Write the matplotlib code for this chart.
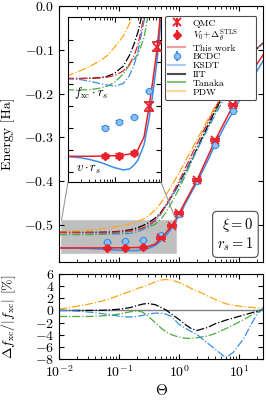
import numpy as np
import matplotlib
matplotlib.use('Agg')
import matplotlib.pyplot as plt
from matplotlib.lines import Line2D
from matplotlib.patches import Rectangle, ConnectionPatch

plt.rcParams['font.family'] = 'serif'
plt.rcParams['font.serif'] = ['cmr10']
plt.rcParams['mathtext.fontset'] = 'cm'
plt.rcParams['axes.formatter.use_mathtext'] = True

# temperature grid for the curves
theta = [0.01, 0.02, 0.03, 0.05, 0.07, 0.1, 0.15, 0.2, 0.25, 0.3, 0.4, 0.5, 0.6,
         0.75, 1.0, 1.3, 1.6, 2.0, 3.0, 4.0, 6.0, 8.0, 12, 16, 20, 25]

# f_xc * r_s  (dash-dot)
fxc_this = [-0.5174, -0.5174, -0.5173, -0.5171, -0.5168, -0.5160, -0.5140, -0.5110, -0.5070,
            -0.5020, -0.4890, -0.4730, -0.4560, -0.4320, -0.4000, -0.3670, -0.3410, -0.3140,
            -0.2660, -0.2330, -0.1900, -0.1630, -0.1300, -0.1100, -0.0960, -0.0840]
fxc_ksdt = [-0.5174, -0.5179, -0.5186, -0.5197, -0.5204, -0.5209, -0.5197, -0.5161, -0.5111,
            -0.5050, -0.4912, -0.4751, -0.4587, -0.4363, -0.4092, -0.3780, -0.3529, -0.3266,
            -0.2804, -0.2479, -0.2048, -0.1742, -0.1360, -0.1124, -0.0966, -0.0837]
fxc_iit = [-0.5174, -0.5174, -0.5173, -0.5170, -0.5164, -0.5150, -0.5117, -0.5069, -0.5017,
           -0.4962, -0.4844, -0.4706, -0.4555, -0.4346, -0.4060, -0.3758, -0.3512, -0.3244,
           -0.2734, -0.2381, -0.1930, -0.1650, -0.1310, -0.1104, -0.0961, -0.0838]
fxc_tanaka = [-0.5226, -0.5226, -0.5225, -0.5218, -0.5209, -0.5191, -0.5153, -0.5113, -0.5085,
              -0.5065, -0.4988, -0.4867, -0.4720, -0.4493, -0.4176, -0.3839, -0.3567, -0.3281,
              -0.2772, -0.2419, -0.1957, -0.1669, -0.1320, -0.1109, -0.0963, -0.0838]
fxc_pdw = [-0.5164, -0.5138, -0.5121, -0.5093, -0.5070, -0.5031, -0.4981, -0.4926, -0.4872,
           -0.4809, -0.4660, -0.4494, -0.4327, -0.4104, -0.3816, -0.3520, -0.3287, -0.3040,
           -0.2596, -0.2288, -0.1879, -0.1616, -0.1292, -0.1095, -0.0956, -0.0837]

# v * r_s  (solid)
v_this = [-0.5528, -0.5528, -0.5528, -0.5527, -0.5526, -0.5525, -0.5522, -0.5518, -0.5511,
          -0.5498, -0.5440, -0.5310, -0.5190, -0.5030, -0.4740, -0.4440, -0.4210, -0.3970,
          -0.3440, -0.3060, -0.2590, -0.2260, -0.1820, -0.1530, -0.1310, -0.1110]
v_ksdt = [-0.5528, -0.5535, -0.5542, -0.5555, -0.5567, -0.5580, -0.5590, -0.5586, -0.5568,
          -0.5545, -0.5475, -0.5365, -0.5250, -0.5080, -0.4790, -0.4490, -0.4260, -0.4020,
          -0.3530, -0.3160, -0.2690, -0.2400, -0.1970, -0.1690, -0.1470, -0.1250]

# relative deviation of f_xc in percent
dev_pdw = [0.2, 0.7, 1.0, 1.5, 1.9, 2.5, 3.1, 3.6, 3.9, 4.2, 4.7, 5.0, 5.1, 5.0, 4.6, 4.1,
           3.6, 3.2, 2.4, 1.8, 1.1, 0.85, 0.6, 0.5, 0.42, 0.38]
dev_iit = [0.0, 0.0, 0.0, 0.02, 0.08, 0.2, 0.45, 0.8, 1.05, 1.15, 0.95, 0.5, 0.1, -0.6, -1.5,
           -2.4, -3.0, -3.3, -2.8, -2.2, -1.6, -1.25, -0.75, -0.4, -0.15, 0.2]
dev_tanaka = [-1.0, -1.0, -1.0, -0.9, -0.8, -0.6, -0.25, -0.05, -0.3, -0.9, -2.0, -2.9, -3.5,
              -4.0, -4.4, -4.6, -4.6, -4.5, -4.2, -3.8, -3.0, -2.4, -1.5, -0.8, -0.3, 0.2]
dev_ksdt = [0.0, -0.1, -0.25, -0.5, -0.7, -0.95, -1.1, -1.0, -0.8, -0.6, -0.45, -0.45, -0.6,
            -1.0, -2.3, -3.0, -3.5, -4.0, -5.4, -6.4, -7.8, -6.9, -4.6, -2.2, -0.6, 0.3]

# data points
theta_qmc = [0.5, 0.75, 1.0, 2.0, 4.0, 8.0]
v_qmc = [-0.5300, -0.5030, -0.4735, -0.3970, -0.3060, -0.2260]
err_qmc = [0.002, 0.002, 0.002, 0.002, 0.002, 0.002]

theta_stls = [0.0625, 0.125, 0.25]
v_stls = [-0.5527, -0.5525, -0.5512]
err_stls = [0.001, 0.001, 0.001]

theta_bcdc = [0.0625, 0.125, 0.25, 0.5, 1.0, 2.0, 4.0, 8.0]
v_bcdc = [-0.5397, -0.5370, -0.5350, -0.5230, -0.4760, -0.3990, -0.3170, -0.2400]
err_bcdc = [0.0005, 0.0005, 0.0005, 0.0005, 0.0005, 0.0005, 0.0005, 0.0005]

RED = '#e8212b'
BLUE = '#3a8ee6'
GREEN = '#4aac3c'
ORANGE = '#ffa514'
BLACK = 'black'

zoom_x = (0.011, 0.89)
zoom_y = (-0.5645, -0.4895)


def draw_energies(ax):
    for f, c in [(fxc_pdw, ORANGE), (fxc_tanaka, GREEN), (fxc_iit, BLACK),
                 (fxc_ksdt, BLUE), (fxc_this, RED)]:
        ax.plot(theta, f, '-.', color=c, lw=0.9)
    ax.plot(theta, v_ksdt, '-', color=BLUE, lw=1.1)
    ax.plot(theta, v_this, '-', color=RED, lw=1.1)
    ax.errorbar(theta_bcdc, v_bcdc, yerr=err_bcdc, fmt='o', color=BLUE, ms=4.5,
                mfc='#8ec0f5', mec=BLUE, mew=0.8, capsize=3, elinewidth=1, zorder=5)
    ax.errorbar(theta_stls, v_stls, yerr=err_stls, fmt='D', color=RED, ms=4.5,
                capsize=3, elinewidth=1, zorder=6)
    ax.errorbar(theta_qmc, v_qmc, yerr=err_qmc, fmt='x', color=RED, ms=6, mew=1.3,
                capsize=3.5, elinewidth=1, zorder=7)


def style_ticks(ax):
    ax.tick_params(which='both', direction='in', top=True, right=True)
    ax.tick_params(which='major', length=3.5, width=0.8)
    ax.tick_params(which='minor', length=2, width=0.6)


fig = plt.figure(figsize=(2.66, 4.0), dpi=100)
ax = fig.add_axes([0.2218, 0.345, 0.767, 0.639])
axd = fig.add_axes([0.2218, 0.1025, 0.767, 0.2125], sharex=ax)

draw_energies(ax)
ax.set_xscale('log')
ax.set_xlim(0.01, 25)
ax.set_ylim(-0.585, 0.0)
ax.set_yticks([0.0, -0.1, -0.2, -0.3, -0.4, -0.5])
ax.set_ylabel('Energy [Ha]', fontsize=10)
ax.yaxis.set_label_coords(-0.215, 0.5)
style_ticks(ax)
ax.tick_params(axis='both', labelsize=10)
plt.setp(ax.get_xticklabels(), visible=False)

ax.add_patch(Rectangle((zoom_x[0], zoom_y[0]), zoom_x[1] - zoom_x[0], zoom_y[1] - zoom_y[0],
                       facecolor='0.55', alpha=0.55, edgecolor='0.75', lw=0.8, zorder=0))

ax.text(0.955, 0.035, '$\\xi = 0$\n$r_s = 1$', transform=ax.transAxes, fontsize=10.5,
        ha='right', va='bottom', linespacing=1.1,
        bbox=dict(boxstyle='round,pad=0.3', fc='white', ec='0.3', lw=0.8))

handles = [
    ax.errorbar([], [], yerr=[], fmt='x', color=RED, ms=6, mew=1.3, capsize=3.5),
    ax.errorbar([], [], yerr=[], fmt='D', color=RED, ms=4.5, capsize=3),
    Line2D([], [], color=RED, lw=1.5, alpha=0.45),
    ax.errorbar([], [], yerr=[], fmt='o', color=BLUE, ms=4.5, mfc='#8ec0f5', mec=BLUE,
                mew=0.8, capsize=3),
    Line2D([], [], color=BLUE, lw=1.5, alpha=0.45),
    Line2D([], [], color=BLACK, lw=1.5, alpha=0.7),
    Line2D([], [], color=GREEN, lw=1.5, alpha=0.7),
    Line2D([], [], color=ORANGE, lw=1.5, alpha=0.45),
]
labels = ['QMC', '$V_0\\!+\\!\\Delta_\\theta^{\\rm STLS}$', 'This work', 'BCDC', 'KSDT',
          'IIT', 'Tanaka', 'PDW']
leg = ax.legend(handles, labels, loc='upper left', bbox_to_anchor=(0.52, 0.962, 0.448, 0.0),
                mode='expand', fontsize=7, labelspacing=0.0, handlelength=1.75,
                handletextpad=0.8, borderpad=0.3, borderaxespad=0, framealpha=1, fancybox=True)
leg.get_frame().set_edgecolor('0.3')
leg.get_frame().set_linewidth(0.8)

# inset
axin = fig.add_axes([0.2556, 0.545, 0.3496, 0.412])
draw_energies(axin)
axin.set_xscale('log')
axin.set_xlim(*zoom_x)
axin.set_ylim(*zoom_y)
axin.set_yticks([-0.50, -0.51, -0.52, -0.53, -0.54, -0.55, -0.56])
style_ticks(axin)
axin.tick_params(labelleft=False, labelbottom=False)
axin.text(0.06, 0.54, '$f_{\\rm xc}\\cdot r_s$', transform=axin.transAxes, fontsize=9,
          ha='left', va='center')
axin.text(0.09, 0.075, '$v\\cdot r_s$', transform=axin.transAxes, fontsize=9,
          ha='left', va='center')

for xa, xb in [((0, 0), (zoom_x[0], zoom_y[1])), ((1, 0), (zoom_x[1], zoom_y[1]))]:
    con = ConnectionPatch(xyA=xa, coordsA=axin.transAxes, xyB=xb, coordsB=ax.transData,
                          color='0.6', lw=0.8)
    fig.add_artist(con)

# deviation panel
axd.axhline(0, color='0.5', lw=1.0)
for d, c in [(dev_pdw, ORANGE), (dev_tanaka, GREEN), (dev_iit, BLACK), (dev_ksdt, BLUE)]:
    axd.plot(theta, d, '-.', color=c, lw=0.9)
axd.set_ylim(-8, 6)
axd.set_yticks([6, 4, 2, 0, -2, -4, -6, -8])
axd.set_xlabel('$\\Theta$', fontsize=11, labelpad=2)
axd.set_ylabel('$\\Delta f_{\\rm xc}/|f_{\\rm xc}|$ [%]', fontsize=10)
axd.yaxis.set_label_coords(-0.2, 0.5)
style_ticks(axd)
axd.tick_params(axis='both', labelsize=10)
axd.tick_params(axis='x', pad=4)

fig.savefig('out.png', dpi=100)
